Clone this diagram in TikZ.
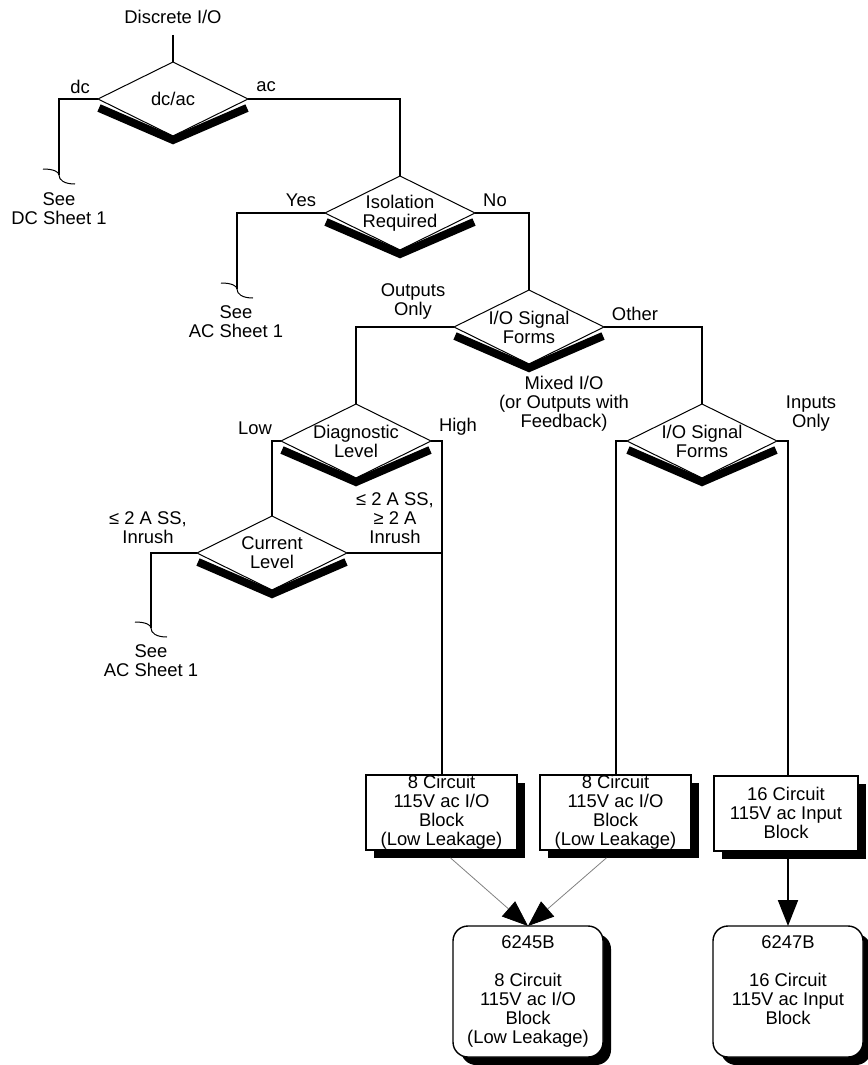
\documentclass[tikz,border=0pt]{standalone}
\usepackage{fontspec}
\setmainfont{Liberation Sans}
\usepackage{tikz}
\usetikzlibrary{shapes.geometric}
\usetikzlibrary{arrows.meta}
\usetikzlibrary{shadows}
\tikzset{
  decision/.style={diamond,draw,line width=0.5pt,fill=white,inner sep=0pt,outer sep=0pt,minimum width=75pt,minimum height=37pt},
  block/.style={rectangle,draw,line width=1pt,fill=white,align=center,inner sep=0pt,outer sep=0pt,
    minimum width=75.5pt,minimum height=37.5pt,drop shadow={shadow xshift=4pt,shadow yshift=-4pt,opacity=1,fill=black}},
  module/.style={block,rounded corners=7.5pt,line width=0.7pt,minimum width=75pt,minimum height=65.5pt},
  tag/.style={align=center,inner sep=0pt},
  bar/.style={line width=4pt,line cap=butt,line join=miter},
  brk/.style={line width=0.5pt}
}
\begin{document}
\begin{tikzpicture}[x=0.5pt,y=-0.5pt,line width=1pt,font=\fontsize{9.2}{9.5}\selectfont,
			>={Triangle[length=13pt,width=10pt,color=black]},
			every label/.style={align=center,inner sep=0pt}]
	\useasboundingbox (0,0) rectangle (867,1065);
	\node [tag,inner sep=5pt] (start) at (173,17) {Discrete I/O};
	% decisions
	\node [decision,label={center:dc/ac}] (dcac) at (173,99) {};
	\node [decision,label={center:Isolation\\Required}] (isol) at (400,213) {};
	\node [decision,label={center:I/O Signal\\Forms}] (sig1) at (529,327) {};
	\node [decision,label={center:Diagnostic\\Level}] (diag) at (356,441) {};
	\node [decision,label={center:Current\\Level}] (cur) at (272,553) {};
	\node [decision,label={center:I/O Signal\\Forms}] (sig2) at (702,441) {};
	\foreach \d in {dcac,isol,sig1,diag,cur,sig2}
		\draw [bar] ([shift={(1,9)}]\d.west) -- ([shift={(0,4)}]\d.south) -- ([shift={(-1,9)}]\d.east);
	% blocks
	\node [block] (box1) at (441.5,812.5) {8 Circuit\\115V ac I/O\\Block\\(Low Leakage)};
	\node [block] (box2) at (615.5,812.5) {8 Circuit\\115V ac I/O\\Block\\(Low Leakage)};
	\node [block,minimum width=72pt] (box3) at (786,813) {16 Circuit\\115V ac Input\\Block};
	\node [module] (box4) at (528,991.5) {6245B\\[9.5pt]8 Circuit\\115V ac I/O\\Block\\(Low Leakage)};
	\node [module] (box5) at (788,991.5) {6247B\\[9.5pt]16 Circuit\\115V ac Input\\Block\\\phantom{(g}};
	% off-sheet ends
	\coordinate (dcend) at (59,175);
	\coordinate (yesend) at (237,289);
	\coordinate (lowend) at (151,628);
	\foreach \e in {dcend,yesend,lowend}
		\draw [brk] ([shift={(-16,-6)}]\e) .. controls ([shift={(-5,-6)}]\e) and ([shift={(0,-3)}]\e) .. (\e)
			.. controls ([shift={(0,5)}]\e) and ([shift={(5,9)}]\e) .. ([shift={(16,9)}]\e);
	\node [tag] (seedc) at (59,209) {See\\DC Sheet 1};
	\node [tag] (seeac) at (236,322) {See\\AC Sheet 1};
	\node [tag] (seeaclow) at (151,661) {See\\AC Sheet 1};
	% branch labels
	\node [tag] (dc) at (80,87) {dc};
	\node [tag] (ac) at (266,87) {ac};
	\node [tag] (yes) at (301,200) {Yes};
	\node [tag] (no) at (495,200) {No};
	\node [tag] (outonly) at (413,301) {Outputs\\Only};
	\node [tag] (other) at (635,314) {Other};
	\node [tag] (mixed) at (564,404) {Mixed I/O\\(or Outputs with\\Feedback)};
	\node [tag] (low) at (255,428) {Low};
	\node [tag] (high) at (458,427) {High};
	\node [tag] (inonly) at (811,414) {Inputs\\Only};
	\node [tag] (hicur) at (395,518) {≤ 2 A SS,\\≥ 2 A\\Inrush};
	\node [tag] (locur) at (148,528) {≤ 2 A SS,\\Inrush};
	% connectors
	\draw (start.south) -- (dcac.north);
	\draw (dcac.west) -| (dcend);
	\draw (dcac.east) -| (isol.north);
	\draw (isol.west) -| (yesend);
	\draw (isol.east) -| (sig1.north);
	\draw (sig1.west) -| (diag.north);
	\draw (sig1.east) -| (sig2.north);
	\draw (diag.west) -| (cur.north);
	\draw (diag.east) -| (box1.north);
	\draw (cur.west) -| (lowend);
	\draw (cur.east) -- (cur.east -| box1.north);
	\draw (sig2.west) -| (box2.north);
	\draw (sig2.east) -| ([xshift=1pt]box3.north);
	\draw [->,black!50,line width=0.4pt,shorten <=6pt] (box1.south) -- (box4.north);
	\draw [->,black!50,line width=0.4pt,shorten <=6pt] (box2.south) -- (box4.north);
	\draw [->] ([xshift=1pt]box3.south) -- (box5.north);
\end{tikzpicture}
\end{document}
